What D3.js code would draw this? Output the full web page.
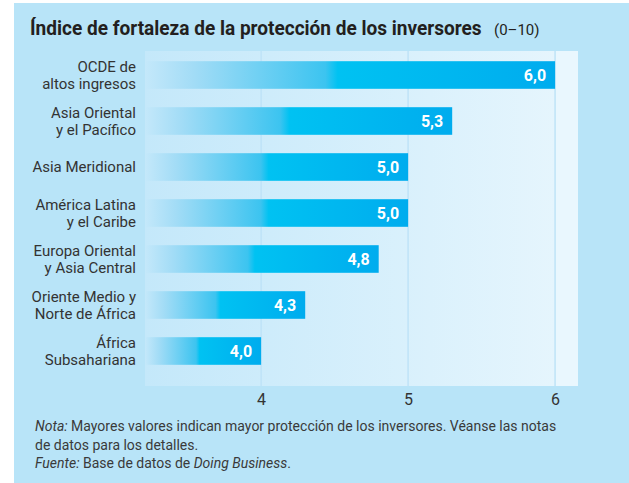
<!DOCTYPE html>
<html>
<head>
<meta charset="utf-8">
<script src="https://cdn.jsdelivr.net/npm/d3@7"></script>
<style>
  body { margin: 0; background: #fff; }
  svg { display: block; }
  text { font-family: Roboto, "Noto Sans", sans-serif; }
</style>
</head>
<body>
<div id="app"></div>
<script>
// data
const regions = [
  ["OCDE de", "altos ingresos"],
  ["Asia Oriental", "y el Pacífico"],
  ["Asia Meridional"],
  ["América Latina", "y el Caribe"],
  ["Europa Oriental", "y Asia Central"],
  ["Oriente Medio y", "Norte de África"],
  ["África", "Subsahariana"]
]
const values = [6.0, 5.3, 5.0, 5.0, 4.8, 4.3, 4.0]
const tickValues = [4, 5, 6]
const title = "Índice de fortaleza de la protección de los inversores"
const titleUnit = "(0–10)"
const noteLines = [
  [["Nota:", true], [" Mayores valores indican mayor protección de los inversores. Véanse las notas", false]],
  [["de datos para los detalles.", false]],
  [["Fuente:", true], [" Base de datos de ", false], ["Doing Business", true], [".", false]]
]

const width = 629
const height = 483
const panel = { left: 145, right: 578, top: 51, bottom: 386 }

const svg = d3.select('#app')
  .append('svg')
  .attr('width', width)
  .attr('height', height)

const defs = svg.append('defs')

const panelGrad = defs.append('linearGradient')
  .attr('id', 'panelGrad')
  .attr('x1', 0).attr('x2', 1).attr('y1', 0).attr('y2', 0)
panelGrad.append('stop').attr('offset', 0).attr('stop-color', '#c4e8fa')
panelGrad.append('stop').attr('offset', 1).attr('stop-color', '#e5f5fd')

const barGrad = defs.append('linearGradient')
  .attr('id', 'barGrad')
  .attr('x1', 0).attr('x2', 1).attr('y1', 0).attr('y2', 0)
barGrad.append('stop').attr('offset', 0).attr('stop-color', '#c4e8fa')
barGrad.append('stop').attr('offset', 0.12).attr('stop-color', '#a2dcf6')
barGrad.append('stop').attr('offset', 0.44).attr('stop-color', '#3cc4f0')
barGrad.append('stop').attr('offset', 0.47).attr('stop-color', '#00c2f2')
barGrad.append('stop').attr('offset', 1).attr('stop-color', '#00acee')

// background
svg.append('rect')
  .attr('x', 14).attr('y', 3)
  .attr('width', width - 14).attr('height', height - 3)
  .attr('fill', '#b8e4f8')

const x = d3.scaleLinear()
  .domain([3.21, 6.156])
  .range([panel.left, panel.right])

const y = d3.scaleBand()
  .domain(d3.range(regions.length))
  .range([panel.top + 1, panel.top + 1 + 46 * 7])
  .paddingInner(0.4)
  .paddingOuter(0.2)

// plot panel
svg.append('rect')
  .attr('x', panel.left).attr('y', panel.top)
  .attr('width', x(6) - panel.left).attr('height', panel.bottom - panel.top)
  .attr('fill', 'url(#panelGrad)')
svg.append('rect')
  .attr('x', x(6)).attr('y', panel.top)
  .attr('width', panel.right - x(6)).attr('height', panel.bottom - panel.top)
  .attr('fill', '#e9f7fe')

// gridlines
svg.append('g')
  .selectAll('line')
  .data(tickValues)
  .enter()
  .append('line')
  .attr('x1', d => x(d)).attr('x2', d => x(d))
  .attr('y1', panel.top).attr('y2', panel.bottom)
  .attr('stroke', '#bfe3f7')
  .attr('stroke-width', 1.5)

// bars
svg.append('g')
  .selectAll('rect')
  .data(values)
  .enter()
  .append('rect')
  .attr('x', panel.left)
  .attr('y', (d, i) => y(i))
  .attr('width', d => x(d) - panel.left)
  .attr('height', y.bandwidth())
  .attr('fill', 'url(#barGrad)')

// value labels
svg.append('g')
  .selectAll('text')
  .data(values)
  .enter()
  .append('text')
  .attr('x', d => x(d) - 9)
  .attr('y', (d, i) => y(i) + y.bandwidth() / 2 + 6)
  .attr('text-anchor', 'end')
  .attr('fill', '#fff')
  .attr('font-size', 16)
  .attr('font-weight', 'bold')
  .text(d => d3.format('.1f')(d).replace('.', ','))

// category labels, one text per line
regions.forEach((lines, i) => {
  const cy = y(i) + y.bandwidth() / 2
  const first = lines.length === 1 ? cy + 5 : cy - 3.5
  svg.append('g')
    .selectAll('text')
    .data(lines)
    .enter()
    .append('text')
    .attr('x', 136)
    .attr('y', (d, j) => first + j * 17.5)
    .attr('text-anchor', 'end')
    .attr('fill', '#333')
    .attr('font-size', 15)
    .text(d => d)
})

// x axis, labels only
const xAxis = d3.axisBottom(x)
  .tickValues(tickValues)
  .tickSize(0)
  .tickPadding(8)
  .tickFormat(d3.format('d'))

const axisG = svg.append('g')
  .attr('transform', `translate(0,${panel.bottom})`)
  .call(xAxis)
axisG.select('.domain').remove()
axisG.selectAll('text')
  .attr('font-family', 'Roboto, sans-serif')
  .attr('font-size', 16)
  .attr('fill', '#333')

// title, squeezed horizontally to the reference width
const titleText = svg.append('text')
  .attr('x', 0).attr('y', 0)
  .attr('font-size', 20)
  .attr('font-weight', 'bold')
  .attr('fill', '#231f20')
  .text(title)
const tw = titleText.node().getComputedTextLength()
titleText.attr('transform', `translate(30,35) scale(${452 / tw},1)`)

svg.append('text')
  .attr('x', 494).attr('y', 35)
  .attr('font-size', 15)
  .attr('fill', '#231f20')
  .text(titleUnit)

// notes
svg.append('g')
  .selectAll('text')
  .data(noteLines)
  .enter()
  .append('text')
  .attr('x', 35)
  .attr('y', (d, i) => 431 + i * 18.5)
  .attr('font-size', 14)
  .attr('fill', '#3a3a3a')
  .selectAll('tspan')
  .data(d => d)
  .enter()
  .append('tspan')
  .attr('font-style', d => d[1] ? 'italic' : 'normal')
  .text(d => d[0])
</script>
</body>
</html>
